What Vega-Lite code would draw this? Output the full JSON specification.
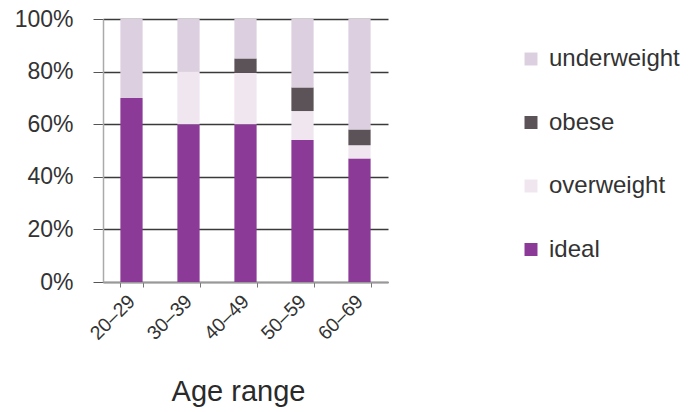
{
  "$schema": "https://vega.github.io/schema/vega-lite/v6.json",
  "width": 285,
  "height": 263,
  "autosize": {"type": "none"},
  "padding": {"left": 103, "top": 19, "right": 300, "bottom": 130},
  "background": "white",
  "config": {
    "font": "Liberation Sans",
    "view": {"stroke": null}
  },
  "data": {
    "values": [
      {"age": "20–29", "category": "ideal", "order": 1, "value": 70},
      {"age": "20–29", "category": "overweight", "order": 2, "value": 0},
      {"age": "20–29", "category": "obese", "order": 3, "value": 0},
      {"age": "20–29", "category": "underweight", "order": 4, "value": 30},
      {"age": "30–39", "category": "ideal", "order": 1, "value": 60},
      {"age": "30–39", "category": "overweight", "order": 2, "value": 20},
      {"age": "30–39", "category": "obese", "order": 3, "value": 0},
      {"age": "30–39", "category": "underweight", "order": 4, "value": 20},
      {"age": "40–49", "category": "ideal", "order": 1, "value": 60},
      {"age": "40–49", "category": "overweight", "order": 2, "value": 19.5},
      {"age": "40–49", "category": "obese", "order": 3, "value": 5.5},
      {"age": "40–49", "category": "underweight", "order": 4, "value": 15},
      {"age": "50–59", "category": "ideal", "order": 1, "value": 54},
      {"age": "50–59", "category": "overweight", "order": 2, "value": 11},
      {"age": "50–59", "category": "obese", "order": 3, "value": 9},
      {"age": "50–59", "category": "underweight", "order": 4, "value": 26},
      {"age": "60–69", "category": "ideal", "order": 1, "value": 47},
      {"age": "60–69", "category": "overweight", "order": 2, "value": 5},
      {"age": "60–69", "category": "obese", "order": 3, "value": 6},
      {"age": "60–69", "category": "underweight", "order": 4, "value": 42}
    ]
  },
  "mark": {"type": "bar"},
  "encoding": {
    "x": {
      "field": "age",
      "type": "nominal",
      "sort": null,
      "title": "Age range",
      "scale": {"paddingInner": 0.61, "paddingOuter": 0.305},
      "axis": {
        "labelAngle": -45,
        "labelAlign": "right",
        "labelBaseline": "middle",
        "labelFontSize": 19.5,
        "labelColor": "#333333",
        "labelPadding": 11,
        "tickBand": "extent",
        "tickSize": 5,
        "tickColor": "#777777",
        "domainColor": "#999999",
        "domainWidth": 1.5,
        "titleFontSize": 29,
        "titleFontWeight": "normal",
        "titleColor": "#2a2a2a",
        "titlePadding": 34,
        "titleX": 135,
        "titleAlign": "center"
      }
    },
    "y": {
      "field": "value",
      "type": "quantitative",
      "stack": "zero",
      "scale": {"domain": [0, 100]},
      "title": null,
      "axis": {
        "values": [0, 20, 40, 60, 80, 100],
        "labelExpr": "datum.value + '%'",
        "labelFontSize": 23,
        "labelColor": "#333333",
        "labelPadding": 20,
        "tickSize": 10,
        "tickColor": "#555555",
        "domainColor": "#aaaaaa",
        "domainWidth": 1.5,
        "grid": true,
        "gridColor": "#3a3a3a",
        "gridWidth": 1.5
      }
    },
    "order": {"field": "order", "type": "quantitative"},
    "color": {
      "field": "category",
      "type": "nominal",
      "scale": {
        "domain": ["underweight", "obese", "overweight", "ideal"],
        "range": ["#dcd0e0", "#5c5358", "#efe6ef", "#8c3a98"]
      },
      "legend": {
        "title": null,
        "orient": "none",
        "legendX": 416,
        "legendY": 28,
        "symbolType": "square",
        "symbolSize": 169,
        "symbolStrokeWidth": 0,
        "labelFontSize": 24,
        "labelColor": "#333333",
        "labelOffset": 6,
        "rowPadding": 39.5
      }
    }
  }
}
